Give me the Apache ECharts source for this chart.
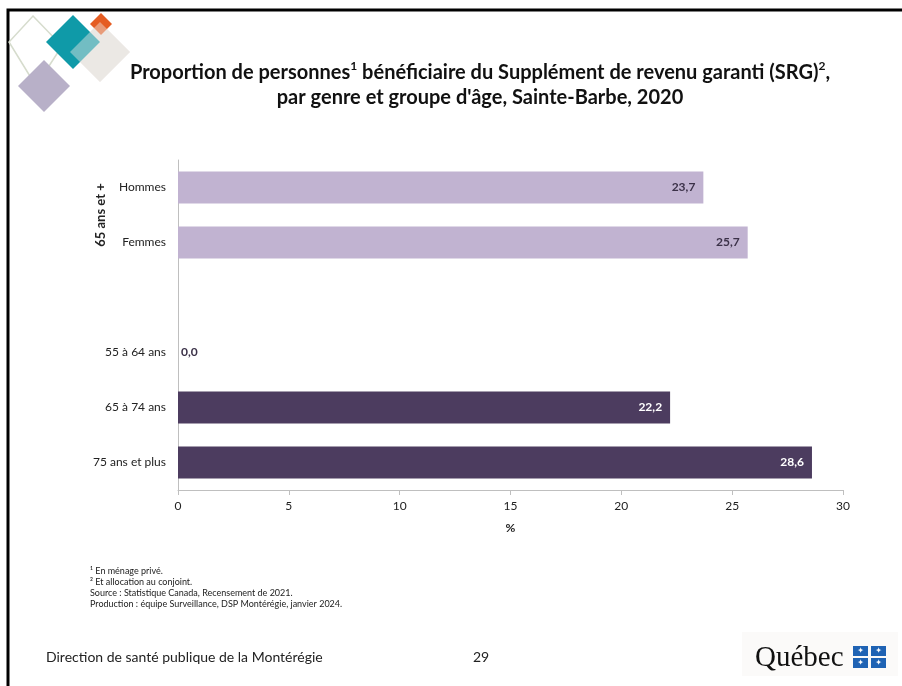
<!DOCTYPE html>
<html><head><meta charset="utf-8">
<script src="https://cdn.jsdelivr.net/npm/echarts@6/dist/echarts.min.js"></script>
<style>html,body{margin:0;padding:0;background:#fff}#c{width:902px;height:686px}</style>
</head><body><div id="c"></div>
<script>
var categories = ['Hommes', 'Femmes', '', '55 à 64 ans', '65 à 74 ans', '75 ans et plus'];
var values = [23.7, 25.7, null, 0.0, 22.2, 28.6];
var groupKind = ['light', 'light', 'none', 'dark', 'dark', 'dark'];
var xTicks = [0, 5, 10, 15, 20, 25, 30];
var footnotes = ['¹ En ménage privé.', '² Et allocation au conjoint.', 'Source : Statistique Canada, Recensement de 2021.', 'Production : équipe Surveillance, DSP Montérégie, janvier 2024.'];

var COL = { light: '#c1b3d1', dark: '#4c3c5f', none: '#ffffff' };
var FONT = 'Lato, "Open Sans", sans-serif';

var data = values.map(function (v, i) {
  var k = groupKind[i];
  if (v === null) return { value: '-' };
  var zero = v === 0;
  return {
    value: v,
    itemStyle: { color: COL[k] },
    label: {
      show: true,
      position: zero ? 'right' : 'insideRight',
      distance: zero ? 3 : 8,
      color: (k === 'dark' && !zero) ? '#ffffff' : '#3b3148'
    }
  };
});

function diamond(cx, cy, h, style, z) {
  return { type: 'polygon', shape: { points: [[cx, cy - h], [cx + h, cy], [cx, cy + h], [cx - h, cy]] }, style: style, z: z || 1 };
}

var chart = echarts.init(document.getElementById('c'), null, { renderer: 'canvas' });
var graphics = [
  { type: 'rect', shape: { x: 8, y: 10, width: 900, height: 690 }, style: { fill: 'none', stroke: '#000', lineWidth: 3 }, z: 0 },
  { type: 'polygon', shape: { points: [[33, 16], [62, 46], [36, 86], [9, 42]] }, style: { fill: 'none', stroke: '#d6dccd', lineWidth: 1.5 }, z: 1 },
  diamond(44, 86, 26, { fill: '#b8b0c8' }, 2),
  diamond(100, 52, 30, { fill: '#ece8e4' }, 2),
  diamond(73, 42, 27, { fill: '#0f9aa8' }, 3),
  diamond(101, 24, 11, { fill: '#e55d23' }, 3),
  diamond(100, 52, 30, { fill: 'rgba(236,232,228,0.45)' }, 4),
  { type: 'text', x: 101, y: 215, rotation: Math.PI / 2, style: { text: '65 ans et +', font: 'bold 13px ' + FONT, fill: '#222', textAlign: 'center', textVerticalAlign: 'middle' }, z: 5 },
  { type: 'text', x: 46, y: 657, style: { text: 'Direction de santé publique de la Montérégie', font: '14px ' + FONT, fill: '#222', textVerticalAlign: 'middle' } },
  { type: 'text', x: 481, y: 657, style: { text: '29', font: '14px ' + FONT, fill: '#222', textAlign: 'center', textVerticalAlign: 'middle' } },
  { type: 'rect', shape: { x: 742, y: 632, width: 156, height: 44 }, style: { fill: '#fbfaf9' } },
  { type: 'text', x: 755, y: 658, style: { text: 'Québec', font: '29px "Liberation Serif", serif', fill: '#111', textVerticalAlign: 'middle' }, z: 3 }
];
// flag squares
[[853, 646], [871, 646], [853, 658], [871, 658]].forEach(function (p) {
  graphics.push({ type: 'rect', shape: { x: p[0], y: p[1], width: 15, height: 10 }, style: { fill: '#1f63b4' }, z: 3 });
  graphics.push({ type: 'text', x: p[0] + 7.5, y: p[1] + 5, style: { text: '✦', font: '8px "DejaVu Sans"', fill: '#fff', textAlign: 'center', textVerticalAlign: 'middle' }, z: 4 });
});
footnotes.forEach(function (t, i) {
  graphics.push({ type: 'text', x: 90, y: 571 + i * 11, style: { text: t, font: '9px ' + FONT, fill: '#222', textVerticalAlign: 'middle' } });
});

chart.setOption({
  backgroundColor: '#fff',
  animation: false,
  title: {
    text: '{a|Proportion de personnes}{s|1}{a| bénéficiaire du Supplément de revenu garanti (SRG)}{s|2}{a|,}\n{a|par genre et groupe d\'âge, Sainte-Barbe, 2020}',
    left: 475, top: 55, textAlign: 'center',
    textStyle: {
      rich: {
        a: { fontFamily: FONT, fontWeight: 'bold', fontSize: 20, color: '#111', lineHeight: 25 },
        s: { fontFamily: FONT, fontWeight: 'bold', fontSize: 12, color: '#111', lineHeight: 25, verticalAlign: 'top', padding: [0, 0, 8, 0] }
      }
    }
  },
  grid: { left: 178, right: 59, top: 160, bottom: 196, containLabel: false },
  xAxis: {
    type: 'value', min: xTicks[0], max: xTicks[xTicks.length - 1], interval: 5,
    name: '%', nameLocation: 'middle', nameGap: 32,
    nameTextStyle: { fontFamily: FONT, fontWeight: 'bold', fontSize: 12, color: '#222' },
    axisLine: { show: true, lineStyle: { color: '#bfbfbf', width: 1 } },
    axisTick: { show: true, length: 5, lineStyle: { color: '#bfbfbf' } },
    axisLabel: { fontFamily: FONT, fontSize: 12, color: '#222', margin: 10 },
    splitLine: { show: false }
  },
  yAxis: {
    type: 'category', data: categories, inverse: true,
    axisLine: { show: true, lineStyle: { color: '#bfbfbf', width: 1 } },
    axisTick: { show: false },
    axisLabel: { fontFamily: FONT, fontSize: 12, color: '#222', margin: 12 }
  },
  series: [{
    type: 'bar', data: data, barWidth: 32,
    label: {
      show: true, fontFamily: FONT, fontWeight: 'bold', fontSize: 12,
      formatter: function (p) { return p.value.toFixed(1).replace('.', ','); }
    }
  }],
  graphic: graphics
});
</script></body></html>
